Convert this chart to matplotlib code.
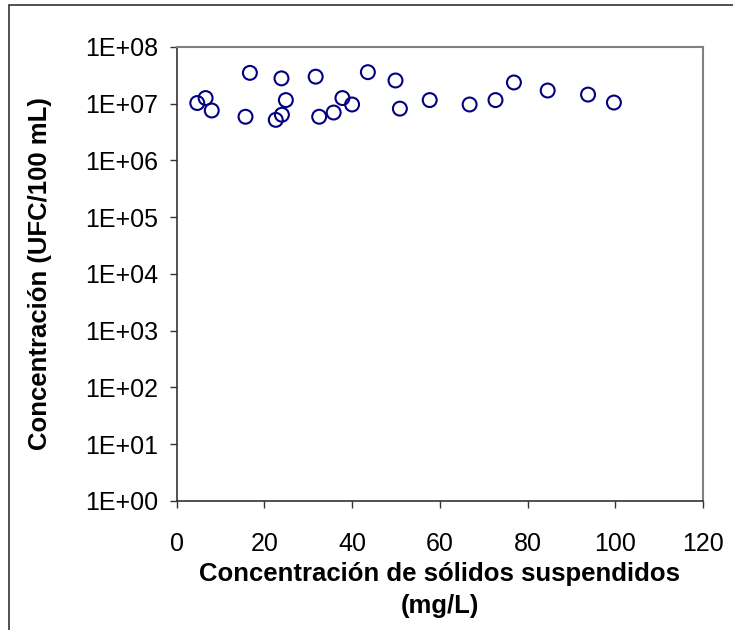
#!/usr/bin/env python3
# -*- coding: utf-8 -*-

import matplotlib
matplotlib.use("Agg")
from matplotlib import pyplot as plt
from matplotlib.patches import Rectangle
from matplotlib.ticker import FixedLocator, NullLocator

# solids concentration (mg/L) vs bacteria concentration (UFC/100 mL)
solidos = [4.7, 6.6, 8.0, 16.7, 15.7, 22.6, 24.0, 23.9, 24.9, 31.7, 32.5, 35.8,
           37.8, 40.0, 43.6, 49.9, 50.9, 57.7, 66.8, 72.7, 76.9, 84.6, 93.8, 99.7]
ufc = [1.03e7, 1.26e7, 7.6e6, 3.5e7, 5.9e6, 5.2e6, 6.4e6, 2.8e7, 1.16e7, 3.0e7, 5.9e6, 7.0e6,
       1.26e7, 9.7e6, 3.6e7, 2.57e7, 8.2e6, 1.16e7, 9.7e6, 1.16e7, 2.37e7, 1.71e7, 1.45e7, 1.05e7]

x_ticks = [0, 20, 40, 60, 80, 100, 120]
y_ticks = [10.0 ** k for k in range(0, 9)]
y_labels = ["1E+%02d" % k for k in range(0, 9)]

plt.rcParams['font.family'] = ['Liberation Sans', 'DejaVu Sans']

fig = plt.figure(figsize=(7.33, 6.3), dpi=100)
# outer chart frame (cut off at right/bottom like the reference)
fig.patches.append(Rectangle((9 / 733, -0.1), 1.2, 1 - 5 / 630 + 0.1, transform=fig.transFigure,
                             fill=False, edgecolor='#333333', linewidth=1.2))

ax = fig.add_axes([0.241, 0.2048, 0.718, 0.7206])
ax.scatter(solidos, ufc, s=100, facecolors='none', edgecolors='#000080', linewidths=1.5, zorder=3)

ax.set_yscale('log')
ax.set_xlim(0, 120)
ax.set_ylim(1, 1e8)
ax.xaxis.set_major_locator(FixedLocator(x_ticks))
ax.yaxis.set_major_locator(FixedLocator(y_ticks))
ax.yaxis.set_minor_locator(NullLocator())
ax.set_yticklabels(y_labels)

for side in ('top', 'right'):
    ax.spines[side].set_color('#808080')
    ax.spines[side].set_linewidth(1.5)
for side in ('left', 'bottom'):
    ax.spines[side].set_color('#333333')
    ax.spines[side].set_linewidth(1.2)

ax.tick_params(direction='out', length=5, width=1, color='#333333', labelsize=18, pad=8)
ax.tick_params(axis='x', pad=17)

ax.set_xlabel("Concentración de sólidos suspendidos\n(mg/L)", fontsize=18.5, fontweight='bold', labelpad=5,
              linespacing=1.4)
ax.set_ylabel("Concentración (UFC/100 mL)", fontsize=18.5, fontweight='bold', labelpad=24)

fig.savefig("out.png", dpi=100)
